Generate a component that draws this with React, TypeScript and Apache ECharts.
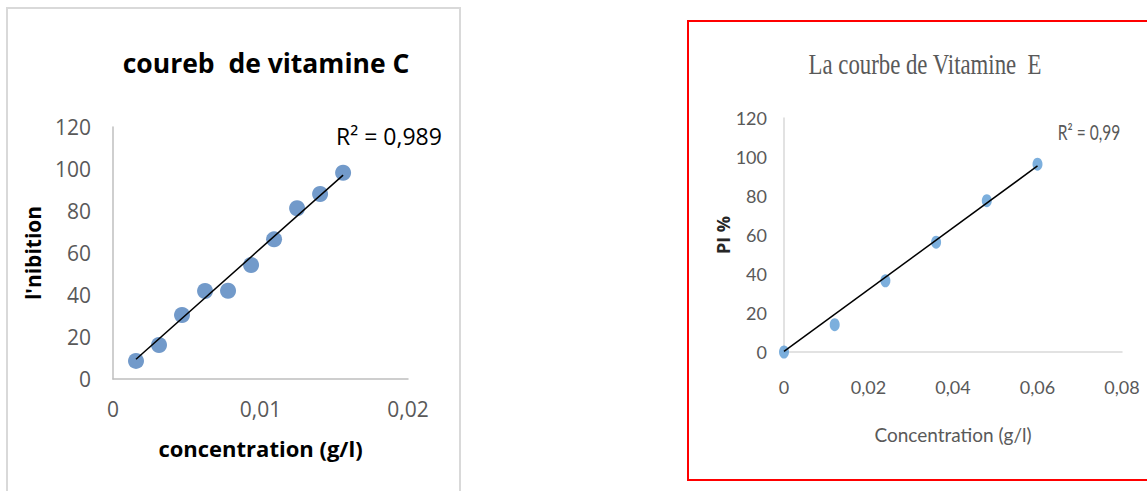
import React, { useEffect, useRef } from "react";
import * as echarts from "echarts";

// Vitamine C data
const concC = [0.00156, 0.00312, 0.00468, 0.00624, 0.0078, 0.00936, 0.01092, 0.01248, 0.01404, 0.0156];
const inhibC = [8.6, 16.2, 30.5, 41.9, 42.0, 54.3, 66.5, 81.3, 88.1, 98.2];
const trendC = [
  [0.00156, 9.4],
  [0.0156, 97.1],
];
const r2C = "R² = 0,989";

// Vitamine E data
const concE = [0, 0.012, 0.024, 0.036, 0.048, 0.06];
const piE = [0, 14.0, 36.5, 56.3, 77.6, 96.3];
const trendE = [
  [0, 0.3],
  [0.06, 95.4],
];
const r2E = "R² = 0,99";

const yTicks = { min: 0, max: 120, interval: 20 };

const comma = (v: number) => String(Number(v.toFixed(4))).replace(".", ",");

export default function App() {
  const ref = useRef<HTMLDivElement>(null);
  useEffect(() => {
    document.body.style.margin = "0";
    const chart = echarts.init(ref.current!, undefined, { renderer: "svg" });
    const sans = "'Open Sans', Lato, sans-serif";
    const narrow = "Lato, sans-serif";
    const option: any = {
      animation: false,
      backgroundColor: "#ffffff",
      title: [
        {
          text: "coureb  de vitamine C",
          left: 261,
          top: 44,
          textAlign: "center",
          textStyle: { fontFamily: sans, fontWeight: "bold", fontSize: 26.5, color: "#000000" },
        },
      ],
      grid: [
        { left: 113, top: 127, width: 295, height: 252, containLabel: false },
        { left: 784, top: 118, width: 338, height: 234, containLabel: false },
      ],
      xAxis: [
        {
          type: "value",
          gridIndex: 0,
          min: 0,
          max: 0.02,
          interval: 0.01,
          axisLine: { show: true, lineStyle: { color: "#BFBFBF", width: 1.5 } },
          axisTick: { show: false },
          splitLine: { show: false },
          axisLabel: { color: "#595959", fontSize: 21, fontFamily: sans, margin: 19, formatter: comma },
          name: "concentration (g/l)",
          nameLocation: "middle",
          nameGap: 58,
          nameTextStyle: { fontFamily: sans, fontWeight: "bold", fontSize: 22, color: "#000000" },
        },
        {
          type: "value",
          gridIndex: 1,
          min: 0,
          max: 0.08,
          interval: 0.02,
          axisLine: { show: true, lineStyle: { color: "#D9D9D9", width: 1.5 } },
          axisTick: { show: false },
          splitLine: { show: false },
          axisLabel: { color: "#595959", fontSize: 18, fontFamily: narrow, margin: 26, formatter: comma },
          name: "Concentration (g/l)",
          nameLocation: "middle",
          nameGap: 73,
          nameTextStyle: { fontFamily: narrow, fontSize: 19, color: "#595959" },
        },
      ],
      yAxis: [
        {
          type: "value",
          gridIndex: 0,
          ...yTicks,
          axisLine: { show: true, lineStyle: { color: "#BFBFBF", width: 1.5 } },
          axisTick: { show: false },
          splitLine: { show: false },
          axisLabel: { color: "#595959", fontSize: 21, fontFamily: sans, margin: 22 },
          name: "l'nibition",
          nameLocation: "middle",
          nameGap: 70,
          nameRotate: 90,
          nameTextStyle: { fontFamily: sans, fontWeight: "bold", fontSize: 21, color: "#000000" },
        },
        {
          type: "value",
          gridIndex: 1,
          ...yTicks,
          axisLine: { show: true, lineStyle: { color: "#D9D9D9", width: 1.5 } },
          axisTick: { show: false },
          splitLine: { show: false },
          axisLabel: { color: "#595959", fontSize: 18, fontFamily: narrow, margin: 17 },
          name: "PI %",
          nameLocation: "middle",
          nameGap: 50,
          nameRotate: 90,
          nameTextStyle: { fontFamily: sans, fontWeight: "bold", fontSize: 18, color: "#262626" },
        },
      ],
      series: [
        {
          type: "scatter",
          xAxisIndex: 0,
          yAxisIndex: 0,
          data: concC.map((x, i) => [x, inhibC[i]]),
          symbol: "circle",
          symbolSize: 16,
          itemStyle: { color: "#4F81BD" },
          z: 2,
        },
        {
          type: "line",
          xAxisIndex: 0,
          yAxisIndex: 0,
          data: trendC,
          symbol: "none",
          lineStyle: { color: "#000000", width: 1.5 },
          z: 3,
        },
        {
          type: "scatter",
          xAxisIndex: 1,
          yAxisIndex: 1,
          data: concE.map((x, i) => [x, piE[i]]),
          symbol: "circle",
          symbolSize: [10, 13],
          itemStyle: { color: "#5B9BD5" },
          z: 2,
        },
        {
          type: "line",
          xAxisIndex: 1,
          yAxisIndex: 1,
          data: trendE,
          symbol: "none",
          lineStyle: { color: "#000000", width: 1.5 },
          z: 3,
        },
      ],
      graphic: [
        {
          type: "rect",
          shape: { x: 7, y: 8, width: 453, height: 500 },
          style: { fill: "none", stroke: "#D9D9D9", lineWidth: 2 },
          silent: true,
        },
        {
          type: "rect",
          shape: { x: 688, y: 21, width: 480, height: 459 },
          style: { fill: "none", stroke: "#FF0000", lineWidth: 2 },
          silent: true,
        },
        {
          type: "text",
          x: 389,
          y: 136,
          style: {
            text: r2C,
            fontFamily: sans,
            fontSize: 23,
            fill: "#000000",
            textAlign: "center",
            textVerticalAlign: "middle",
          },
        },
        {
          type: "text",
          x: 1089,
          y: 132,
          scaleX: 0.74,
          style: {
            text: r2E,
            fontFamily: "Lato, sans-serif",
            fontSize: 21,
            fill: "#595959",
            textAlign: "center",
            textVerticalAlign: "middle",
          },
        },
        {
          type: "text",
          x: 925,
          y: 64,
          scaleX: 0.76,
          style: {
            text: "La courbe de Vitamine  E",
            fontFamily: "'Liberation Serif', 'DejaVu Serif', serif",
            fontSize: 30,
            fill: "#595959",
            textAlign: "center",
            textVerticalAlign: "middle",
          },
        },
      ],
    };
    chart.setOption(option);
    return () => chart.dispose();
  }, []);
  return <div ref={ref} style={{ width: 1147, height: 491 }} />;
}
